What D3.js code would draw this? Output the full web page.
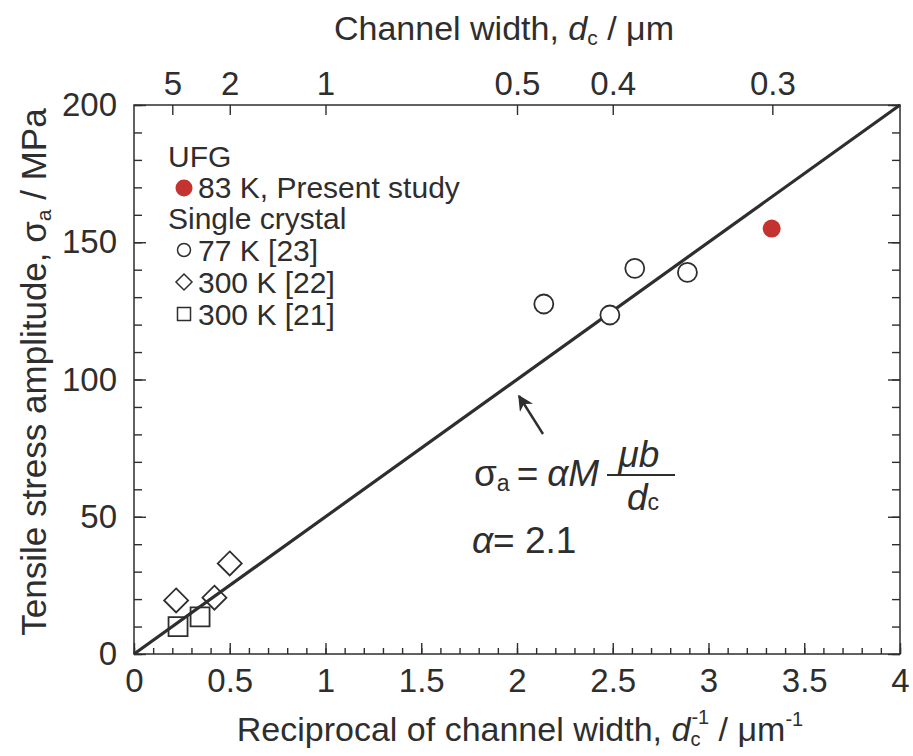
<!DOCTYPE html>
<html>
<head>
<meta charset="utf-8">
<script src="https://cdn.jsdelivr.net/npm/d3@7"></script>
<style>
  body { margin: 0; background: #fff; }
  svg text { font-family: "Liberation Sans", Arial, Helvetica, sans-serif; fill: #2e2e2e; }
</style>
</head>
<body>
<svg id="chart" width="913" height="756"></svg>
<script>
// data
var ufgX = [3.33], ufgY = [155];
var sc77X = [2.14, 2.485, 2.615, 2.89], sc77Y = [127.5, 123.5, 140.5, 139];
var sc300aX = [0.22, 0.42, 0.5], sc300aY = [19.5, 20.5, 33];
var sc300bX = [0.23, 0.345], sc300bY = [10, 13.5];
var fitX = [0, 4], fitY = [0, 200];
var topTicks = [5, 2, 1, 0.5, 0.4, 0.3];
var xMajor = [0, 0.5, 1, 1.5, 2, 2.5, 3, 3.5, 4];
var yMajor = [0, 50, 100, 150, 200];

var svg = d3.select('#chart');
var ink = '#2e2e2e';
var red = '#c4332f';

var x = d3.scaleLinear().domain([0, 4]).range([134, 900]);
var y = d3.scaleLinear().domain([0, 200]).range([654, 105]);

// frame
svg.append('rect')
    .attr('x', x(0)).attr('y', y(200))
    .attr('width', x(4) - x(0)).attr('height', y(0) - y(200))
    .attr('fill', 'none').attr('stroke', ink).attr('stroke-width', 1.5);

function styleAxis(g) {
  g.select('.domain').remove();
  g.selectAll('line').attr('stroke', ink).attr('stroke-width', 1.4);
}

// bottom axis, inward ticks
var minorX = d3.range(0, 41).map(function(d) { return d / 10; });
svg.append('g').attr('transform', 'translate(0,' + y(0) + ')')
    .call(d3.axisBottom(x).tickValues(minorX).tickSize(-6).tickFormat(''))
    .call(styleAxis);
svg.append('g').attr('transform', 'translate(0,' + y(0) + ')')
    .call(d3.axisBottom(x).tickValues(xMajor).tickSize(-11).tickPadding(15)
      .tickFormat(d3.format('')))
    .call(styleAxis)
    .selectAll('text').style('font-size', '33px');

// left axis
var minorY = d3.range(0, 201, 10);
svg.append('g').attr('transform', 'translate(' + x(0) + ',0)')
    .call(d3.axisLeft(y).tickValues(minorY).tickSize(-8).tickFormat(''))
    .call(styleAxis);
svg.append('g').attr('transform', 'translate(' + x(0) + ',0)')
    .call(d3.axisLeft(y).tickValues(yMajor).tickSize(-12).tickPadding(17))
    .call(styleAxis)
    .selectAll('text').style('font-size', '33px');

// right axis
svg.append('g').attr('transform', 'translate(' + x(4) + ',0)')
    .call(d3.axisRight(y).tickValues(minorY).tickSize(-8).tickFormat(''))
    .call(styleAxis);
svg.append('g').attr('transform', 'translate(' + x(4) + ',0)')
    .call(d3.axisRight(y).tickValues(yMajor).tickSize(-12).tickFormat(''))
    .call(styleAxis);

// top axis: channel width
svg.append('g').attr('transform', 'translate(0,' + y(200) + ')')
    .call(d3.axisTop(x).tickValues(topTicks.map(function(d) { return 1 / d; }))
      .tickSize(-10).tickPadding(10)
      .tickFormat(function(d, i) { return String(topTicks[i]); }))
    .call(styleAxis)
    .selectAll('text').style('font-size', '33px');

// fit line
svg.append('line')
    .attr('x1', x(fitX[0])).attr('y1', y(fitY[0]))
    .attr('x2', x(fitX[1])).attr('y2', y(fitY[1]))
    .attr('stroke', ink).attr('stroke-width', 3.2);

// markers
function diamondPath(r) { return 'M0,' + -r + 'L' + r + ',0L0,' + r + 'L' + -r + ',0Z'; }
function squarePath(h) { return 'M' + -h + ',' + -h + 'H' + h + 'V' + h + 'H' + -h + 'Z'; }
function circlePath(r) { return d3.symbol().type(d3.symbolCircle).size(Math.PI * r * r)(); }

function plotSet(xs, ys, path, fill, stroke) {
  svg.append('g').selectAll('path').data(xs).join('path')
    .attr('transform', function(d, i) { return 'translate(' + x(d) + ',' + y(ys[i]) + ')'; })
    .attr('d', path)
    .attr('fill', fill).attr('stroke', stroke).attr('stroke-width', 1.8);
}
plotSet(sc77X, sc77Y, circlePath(9.5), '#fff', ink);
plotSet(sc300aX, sc300aY, diamondPath(12), 'none', ink);
plotSet(sc300bX, sc300bY, squarePath(9.5), 'none', ink);
plotSet(ufgX, ufgY, circlePath(9), red, 'none');

// legend
var leg = svg.append('g').style('font-size', '30px');
var mx = 184, tx = 198;
leg.append('text').attr('x', 168).attr('y', 167).text('UFG');
leg.append('path').attr('transform', 'translate(' + mx + ',188)')
    .attr('d', circlePath(8.5)).attr('fill', red);
leg.append('text').attr('x', tx).attr('y', 198).text('83 K, Present study');
leg.append('text').attr('x', 168).attr('y', 229).text('Single crystal');
leg.append('path').attr('transform', 'translate(' + mx + ',250)')
    .attr('d', circlePath(6.5))
    .attr('fill', 'none').attr('stroke', ink).attr('stroke-width', 1.5);
leg.append('text').attr('x', tx).attr('y', 261).text('77 K [23]');
leg.append('path').attr('transform', 'translate(' + mx + ',282)')
    .attr('d', diamondPath(8))
    .attr('fill', 'none').attr('stroke', ink).attr('stroke-width', 1.5);
leg.append('text').attr('x', tx).attr('y', 293).text('300 K [22]');
leg.append('path').attr('transform', 'translate(' + mx + ',314)')
    .attr('d', squarePath(6.5))
    .attr('fill', 'none').attr('stroke', ink).attr('stroke-width', 1.5);
leg.append('text').attr('x', tx).attr('y', 325).text('300 K [21]');

// axis titles
var xt = svg.append('text').attr('x', 520).attr('y', 741).attr('text-anchor', 'middle')
    .style('font-size', '34px');
xt.append('tspan').text('Reciprocal of channel width, ');
xt.append('tspan').style('font-style', 'italic').text('d');
xt.append('tspan').attr('dy', 5).style('font-size', '20px').text('c');
xt.append('tspan').attr('dy', -22).attr('dx', -9).style('font-size', '20px').text('-1');
xt.append('tspan').attr('dy', 17).text(' / \u03bcm');
xt.append('tspan').attr('dy', -15).style('font-size', '20px').text('-1');

var tt = svg.append('text').attr('x', 504).attr('y', 40).attr('text-anchor', 'middle')
    .style('font-size', '34px');
tt.append('tspan').text('Channel width, ');
tt.append('tspan').style('font-style', 'italic').text('d');
tt.append('tspan').attr('dy', 5).style('font-size', '21px').text('c');
tt.append('tspan').attr('dy', -5).text(' / \u03bcm');

var yt = svg.append('text').attr('transform', 'translate(46,372) rotate(-90)')
    .attr('text-anchor', 'middle').style('font-size', '35px');
yt.append('tspan').text('Tensile stress amplitude, \u03c3');
yt.append('tspan').attr('dy', 5).style('font-size', '21px').text('a');
yt.append('tspan').attr('dy', -5).text(' / MPa');

// arrow to fit line
svg.append('defs').append('marker').attr('id', 'ah')
    .attr('viewBox', '0 0 10 10').attr('refX', 9).attr('refY', 5)
    .attr('markerWidth', 6.5).attr('markerHeight', 6.5).attr('orient', 'auto')
    .append('path').attr('d', 'M0,0L10,5L0,10L3,5Z').attr('fill', ink);
svg.append('line').attr('x1', 543).attr('y1', 434).attr('x2', 519).attr('y2', 396)
    .attr('stroke', ink).attr('stroke-width', 2.4).attr('marker-end', 'url(#ah)');

// formula
var f = svg.append('g').style('font-size', '37px');
var f1 = f.append('text').attr('x', 474).attr('y', 486);
f1.append('tspan').text('\u03c3');
f1.append('tspan').attr('dy', 5).style('font-size', '23px').text('a');
f1.append('tspan').attr('dy', -5).attr('dx', 7).text('=');
f1.append('tspan').attr('dx', 9).style('font-style', 'italic').text('\u03b1M');
f.append('text').attr('x', 639).attr('y', 467).attr('text-anchor', 'middle')
    .style('font-style', 'italic').text('\u03bcb');
f.append('line').attr('x1', 607).attr('x2', 675).attr('y1', 475).attr('y2', 475)
    .attr('stroke', ink).attr('stroke-width', 2);
var fd = f.append('text').attr('x', 627).attr('y', 510);
fd.append('tspan').style('font-style', 'italic').text('d');
fd.append('tspan').style('font-size', '23px').text('c');
var f2 = f.append('text').attr('x', 472).attr('y', 553);
f2.append('tspan').style('font-style', 'italic').text('\u03b1');
f2.append('tspan').text('= 2.1');
</script>
</body>
</html>
